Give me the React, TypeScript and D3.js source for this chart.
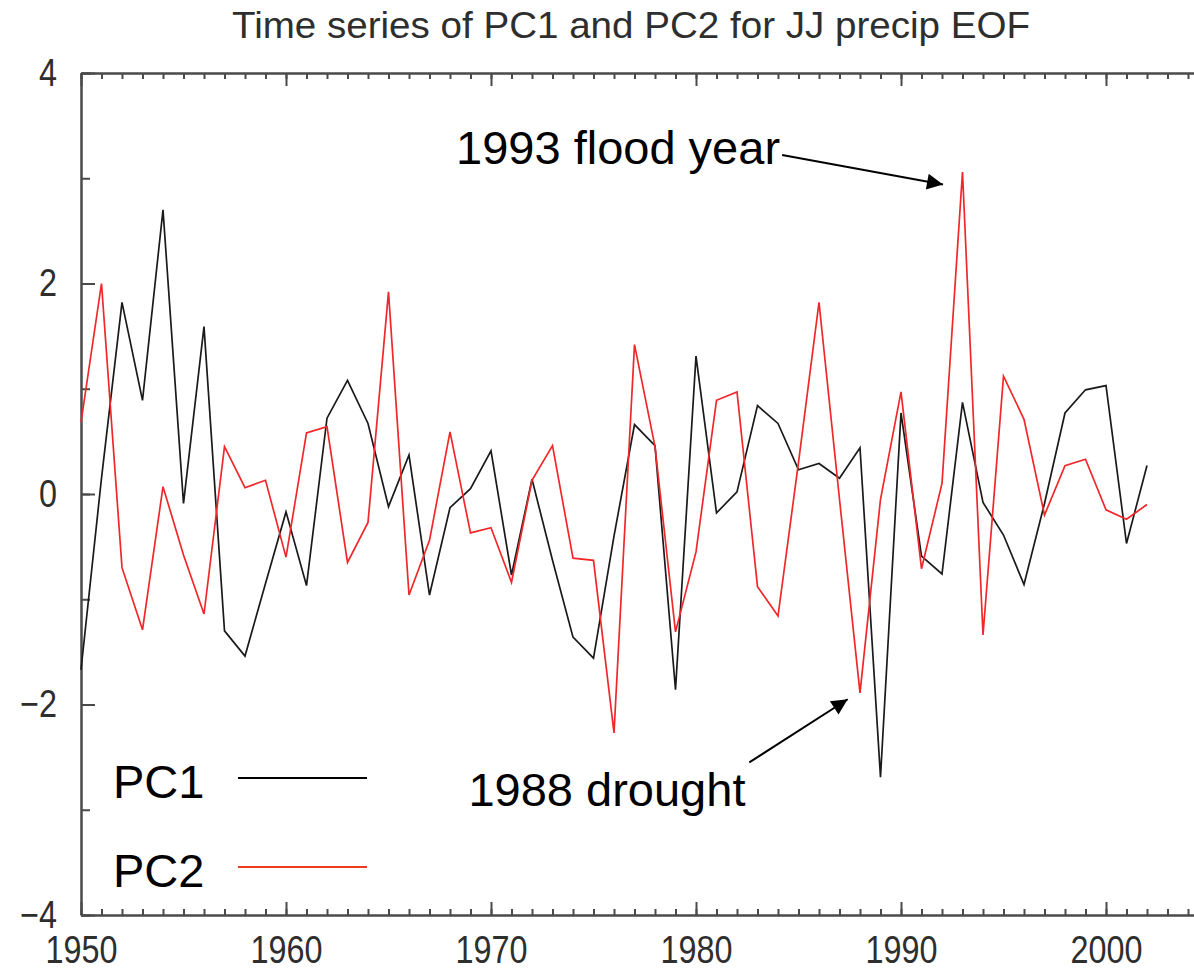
import React, { useRef, useEffect } from 'react'
import * as d3 from 'd3'

const years = [
  1950, 1951, 1952, 1953, 1954, 1955, 1956, 1957, 1958, 1959,
  1960, 1961, 1962, 1963, 1964, 1965, 1966, 1967, 1968, 1969,
  1970, 1971, 1972, 1973, 1974, 1975, 1976, 1977, 1978, 1979,
  1980, 1981, 1982, 1983, 1984, 1985, 1986, 1987, 1988, 1989,
  1990, 1991, 1992, 1993, 1994, 1995, 1996, 1997, 1998, 1999,
  2000, 2001, 2002,
]

const pc1 = [
  -1.67, 0.15, 1.82, 0.89, 2.7, -0.09, 1.59, -1.3, -1.54, -0.85,
  -0.17, -0.87, 0.72, 1.08, 0.67, -0.12, 0.37, -0.96, -0.13, 0.05,
  0.41, -0.77, 0.14, -0.63, -1.36, -1.56, -0.4, 0.66, 0.46, -1.86,
  1.31, -0.18, 0.02, 0.84, 0.67, 0.23, 0.29, 0.15, 0.44, -2.69,
  0.77, -0.59, -0.76, 0.87, -0.08, -0.39, -0.86, -0.09, 0.77, 0.99,
  1.03, -0.47, 0.27,
]

const pc2 = [
  0.68, 2.0, -0.7, -1.29, 0.07, -0.58, -1.14, 0.45, 0.06, 0.13,
  -0.6, 0.58, 0.64, -0.65, -0.27, 1.92, -0.96, -0.44, 0.59, -0.37,
  -0.32, -0.84, 0.13, 0.46, -0.61, -0.63, -2.27, 1.42, 0.45, -1.31,
  -0.55, 0.89, 0.97, -0.88, -1.16, 0.3, 1.82, -0.05, -1.89, -0.05,
  0.97, -0.71, 0.1, 3.06, -1.34, 1.12, 0.71, -0.2, 0.27, 0.33,
  -0.15, -0.24, -0.1,
]

const seriesNames = ['PC1', 'PC2']
const seriesColors = ['#1a1a1a', '#f0282a']
const legendColors = ['#000000', '#f03a1c']
const yLabelTicks = [-4, -2, 0, 2, 4]
const xLabelTicks = [1950, 1960, 1970, 1980, 1990, 2000]

// annotations, in data units: text anchor, then arrow from -> to
const floodNote = { text: '1993 flood year', tx: 1984.1, ty: 3.14, x0: 1984.2, y0: 3.22, x1: 1992.05, y1: 2.94 }
const droughtNote = { text: '1988 drought', tx: 1968.9, ty: -2.96, x0: 1982.6, y0: -2.55, x1: 1987.4, y1: -1.95 }

const W = 1194
const H = 970
const sans = '"Liberation Sans", Arial, Helvetica, sans-serif'
const squeeze = 0.83 // no narrow font installed, so squash the tick labels

const App = () => {
  const svgRef = useRef<SVGSVGElement>(null)

  useEffect(() => {
    if (!svgRef.current) return
    const svg = d3.select(svgRef.current)
    svg.selectAll('*').remove()

    const x = d3.scaleLinear().domain([1950, 2005]).range([81, 1208.5])
    const y = d3.scaleLinear().domain([-4, 4]).range([915, 73])

    const axisColor = '#4a4a4a'
    const minorYears = d3.range(1950, 2006)
    const minorVals = d3.range(-4, 5)

    const styleAxis = (g: any) => {
      g.select('.domain').attr('stroke', axisColor).attr('stroke-width', 2)
      g.selectAll('.tick line').attr('stroke', axisColor).attr('stroke-width', 2)
      g.selectAll('.tick text')
        .attr('fill', '#2e2e2e')
        .attr('font-family', sans)
        .attr('font-size', 39)
        .attr('transform', `scale(${squeeze},1)`)
    }

    // bottom
    svg.append('g').attr('transform', `translate(0,${y(-4)})`)
      .call(d3.axisBottom(x).tickValues(minorYears).tickSize(-6).tickFormat(() => '').tickSizeOuter(0))
      .call(styleAxis)
    svg.append('g').attr('transform', `translate(0,${y(-4)})`)
      .call(d3.axisBottom(x).tickValues(xLabelTicks).tickSize(-13).tickPadding(20).tickFormat(d3.format('d')).tickSizeOuter(0))
      .call(styleAxis)
    // top
    svg.append('g').attr('transform', `translate(0,${y(4)})`)
      .call(d3.axisTop(x).tickValues(minorYears).tickSize(-6).tickFormat(() => '').tickSizeOuter(0))
      .call(styleAxis)
    svg.append('g').attr('transform', `translate(0,${y(4)})`)
      .call(d3.axisTop(x).tickValues(xLabelTicks).tickSize(-13).tickFormat(() => '').tickSizeOuter(0))
      .call(styleAxis)
    // left
    svg.append('g').attr('transform', `translate(${x(1950)},0)`)
      .call(d3.axisLeft(y).tickValues(minorVals).tickSize(-9).tickFormat(() => '').tickSizeOuter(0))
      .call(styleAxis)
    svg.append('g').attr('transform', `translate(${x(1950)},0)`)
      .call(d3.axisLeft(y).tickValues(yLabelTicks).tickSize(-14).tickPadding(24).tickFormat(d3.format('d')).tickSizeOuter(0))
      .call(styleAxis)
      .call((g: any) => g.selectAll('.tick text').attr('x', -24 / squeeze))
    // right
    svg.append('g').attr('transform', `translate(${x(2005)},0)`)
      .call(d3.axisRight(y).tickValues(minorVals).tickSize(-9).tickFormat(() => '').tickSizeOuter(0))
      .call(styleAxis)
    svg.append('g').attr('transform', `translate(${x(2005)},0)`)
      .call(d3.axisRight(y).tickValues(yLabelTicks).tickSize(-14).tickFormat(() => '').tickSizeOuter(0))
      .call(styleAxis)

    // title
    svg.append('text')
      .attr('x', 631).attr('y', 38)
      .attr('text-anchor', 'middle')
      .attr('font-family', sans)
      .attr('font-size', 36)
      .attr('fill', '#2e2e2e')
      .attr('textLength', 798)
      .attr('lengthAdjust', 'spacingAndGlyphs')
      .text('Time series of PC1 and PC2 for JJ precip EOF')

    // series
    const line = d3.line<number>()
      .x((_, i) => x(years[i]))
      .y(d => y(d))
    ;[pc1, pc2].forEach((vals, k) => {
      svg.append('path')
        .attr('d', line(vals))
        .attr('fill', 'none')
        .attr('stroke', seriesColors[k])
        .attr('stroke-width', 1.7)
    })

    // legend
    seriesNames.forEach((name, k) => {
      const baseY = 798 + k * 89
      svg.append('text')
        .attr('x', 113).attr('y', baseY)
        .attr('font-family', sans)
        .attr('font-size', 47)
        .attr('fill', '#000')
        .text(name)
      svg.append('line')
        .attr('x1', 238).attr('x2', 367)
        .attr('y1', baseY - 20).attr('y2', baseY - 20)
        .attr('stroke', legendColors[k])
        .attr('stroke-width', 2)
    })

    // annotations
    const defs = svg.append('defs')
    defs.append('marker')
      .attr('id', 'arrowHead')
      .attr('viewBox', '0 0 10 10')
      .attr('refX', 10).attr('refY', 5)
      .attr('markerWidth', 10).attr('markerHeight', 8)
      .attr('markerUnits', 'strokeWidth')
      .attr('orient', 'auto')
      .append('path')
      .attr('d', 'M0,0L10,5L0,10Z')
      .attr('fill', '#000')

    svg.append('text')
      .attr('x', x(floodNote.tx)).attr('y', y(floodNote.ty))
      .attr('text-anchor', 'end')
      .attr('font-family', sans)
      .attr('font-size', 47)
      .attr('fill', '#000')
      .text(floodNote.text)
    svg.append('text')
      .attr('x', x(droughtNote.tx)).attr('y', y(droughtNote.ty))
      .attr('font-family', sans)
      .attr('font-size', 47)
      .attr('fill', '#000')
      .text(droughtNote.text)

    ;[floodNote, droughtNote].forEach(n => {
      svg.append('line')
        .attr('x1', x(n.x0)).attr('y1', y(n.y0))
        .attr('x2', x(n.x1)).attr('y2', y(n.y1))
        .attr('stroke', '#000')
        .attr('stroke-width', 2)
        .attr('marker-end', 'url(#arrowHead)')
    })
  }, [])

  return (
    <svg
      ref={svgRef}
      width={W}
      height={H}
      style={{ position: 'absolute', left: 0, top: 0, background: '#fff' }}
    />
  )
}

export default App
